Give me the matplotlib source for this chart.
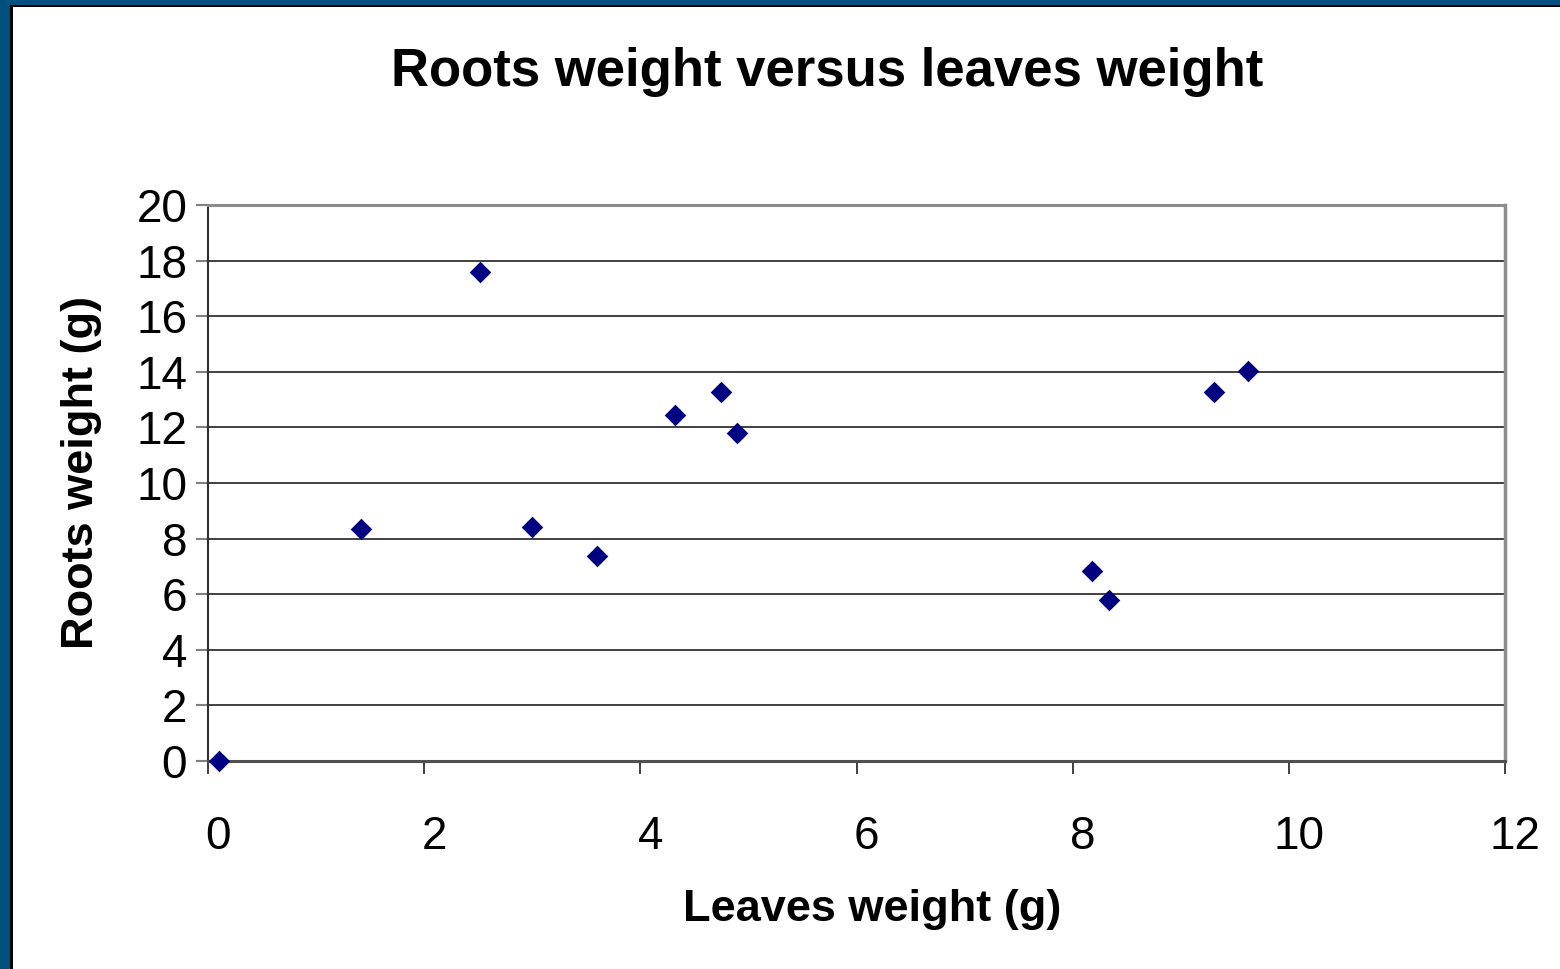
import matplotlib.pyplot as plt
import matplotlib.transforms as mtransforms
from matplotlib.patches import Rectangle

plt.rcParams['font.family'] = ['Liberation Sans', 'DejaVu Sans']

# datos
leaves = [0.1, 1.42, 2.52, 3.0, 3.6, 4.32, 4.75, 4.89, 8.18, 8.34, 9.31, 9.62]
roots = [0.0, 8.35, 17.6, 8.42, 7.37, 12.45, 13.27, 11.8, 6.83, 5.79, 13.27, 14.03]
x_ticks = [0, 2, 4, 6, 8, 10, 12]
y_ticks = [0, 2, 4, 6, 8, 10, 12, 14, 16, 18, 20]

fig = plt.figure(figsize=(15.6, 9.69), dpi=100)

# marco azul a la izquierda y arriba
W, H = 1560, 969
fig.patches.append(Rectangle((0, 0), 10 / W, 1, transform=fig.transFigure,
                             facecolor='#00507f', edgecolor='none', zorder=0))
fig.patches.append(Rectangle((0, 1 - 5 / H), 1, 5 / H, transform=fig.transFigure,
                             facecolor='#00507f', edgecolor='none', zorder=0))
fig.patches.append(Rectangle((10 / W, 0), 2.5 / W, 1 - 5 / H, transform=fig.transFigure,
                             facecolor='black', edgecolor='none', zorder=0))
fig.patches.append(Rectangle((10 / W, 1 - 7 / H), 1, 2 / H, transform=fig.transFigure,
                             facecolor='black', edgecolor='none', zorder=0))

ax = fig.add_axes([208 / W, 1 - 761 / H, (1505 - 208) / W, (761 - 205) / H])

ax.scatter(leaves, roots, marker='D', s=11 ** 2, color='#000080', zorder=3,
           clip_on=False, linewidths=0)

ax.set_xlim(0, 12)
ax.set_ylim(0, 20)
ax.set_xticks(x_ticks)
ax.set_yticks(y_ticks)
ax.yaxis.grid(True, color='#202020', linewidth=1.2)
ax.set_axisbelow(True)

ax.tick_params(axis='x', direction='out', length=9, width=1.2, color='#202020',
               labelsize=33, pad=30)
ax.tick_params(axis='y', direction='out', length=9, width=1.5, color='#808080',
               labelsize=33, pad=6)
for lab in ax.get_xticklabels():
    lab.set_transform(lab.get_transform() +
                      mtransforms.ScaledTranslation(10 / 100, 0, fig.dpi_scale_trans))

ax.spines['left'].set_color('#303030')
ax.spines['left'].set_linewidth(1.5)
ax.spines['bottom'].set_color('#505050')
ax.spines['bottom'].set_linewidth(2.2)
ax.spines['top'].set_color('#8c8c8c')
ax.spines['top'].set_linewidth(2.2)
ax.spines['right'].set_color('#8c8c8c')
ax.spines['right'].set_linewidth(2.5)

fig.text(827 / W, 1 - 72 / H, 'Roots weight versus leaves weight',
         ha='center', va='center', fontsize=38, fontweight='bold')
fig.text(872 / W, 1 - 910 / H, 'Leaves weight (g)',
         ha='center', va='center', fontsize=32.5, fontweight='bold')
fig.text(82 / W, 1 - 472 / H, 'Roots weight (g)', rotation=90,
         ha='center', va='center', fontsize=32.5, fontweight='bold')

fig.savefig('out.png', dpi=100)
